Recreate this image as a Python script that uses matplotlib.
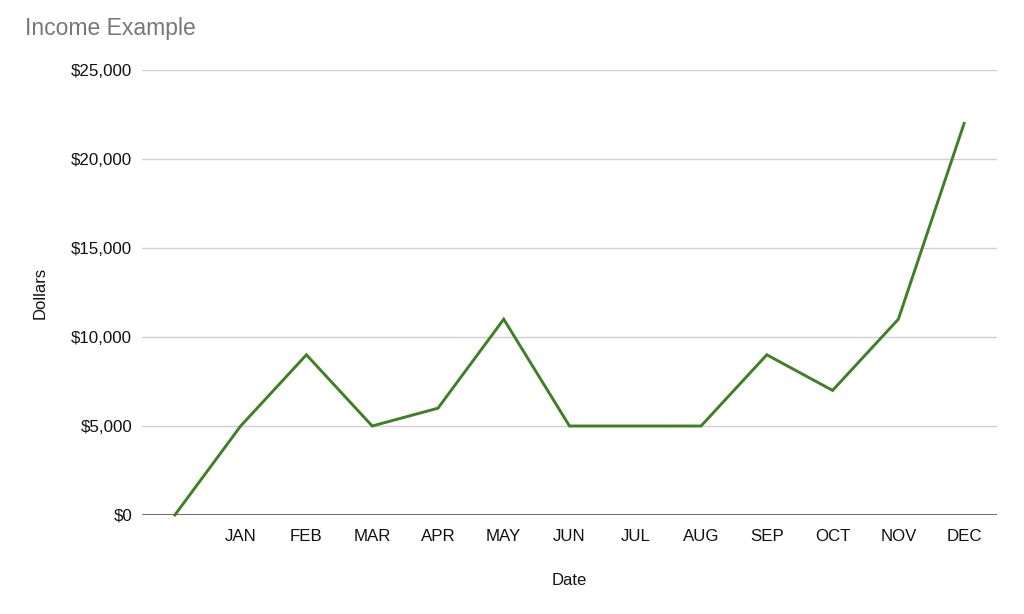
import matplotlib.pyplot as plt
from matplotlib.ticker import FuncFormatter

plt.rcParams['font.family'] = ['Liberation Sans', 'DejaVu Sans']

months = ["", "JAN", "FEB", "MAR", "APR", "MAY", "JUN", "JUL", "AUG", "SEP", "OCT", "NOV", "DEC"]
income = [0, 5000, 9000, 5000, 6000, 11000, 5000, 5000, 5000, 9000, 7000, 11000, 22000]
yticks = [0, 5000, 10000, 15000, 20000, 25000]

fig = plt.figure(figsize=(10.24, 6.14), dpi=100)
ax = fig.add_axes([142 / 1024, 1 - 515 / 614, (997 - 142) / 1024, (515 - 70) / 614])

x = list(range(len(months)))
ax.plot(x, income, color='#3f7f26', lw=2.1, solid_joinstyle='miter', clip_on=False, zorder=3)

ax.set_xlim(-0.5, len(months) - 0.5)
ax.set_ylim(0, 25000)
ax.set_xticks(x)
ax.set_xticklabels(months)
ax.set_yticks(yticks)
ax.yaxis.set_major_formatter(FuncFormatter(lambda v, p: "${:,.0f}".format(v)))
ax.tick_params(length=0, labelsize=12.2, colors='#111111')
ax.tick_params(axis='x', pad=10)
ax.tick_params(axis='y', pad=7)

ax.grid(axis='y', color='#d0d0d0', lw=1)
ax.axhline(0, color='#555555', lw=1.2, zorder=2)
for s in ax.spines.values():
    s.set_visible(False)

ax.set_xlabel("Date", fontsize=12, labelpad=21, color='#111111')
ax.set_ylabel("Dollars", fontsize=12, labelpad=17, color='#111111')

fig.text(25 / 1024, 1 - 28 / 614, "Income Example", fontsize=16.5, color='#777777', va='center', ha='left')

fig.savefig("out.png", dpi=100)
